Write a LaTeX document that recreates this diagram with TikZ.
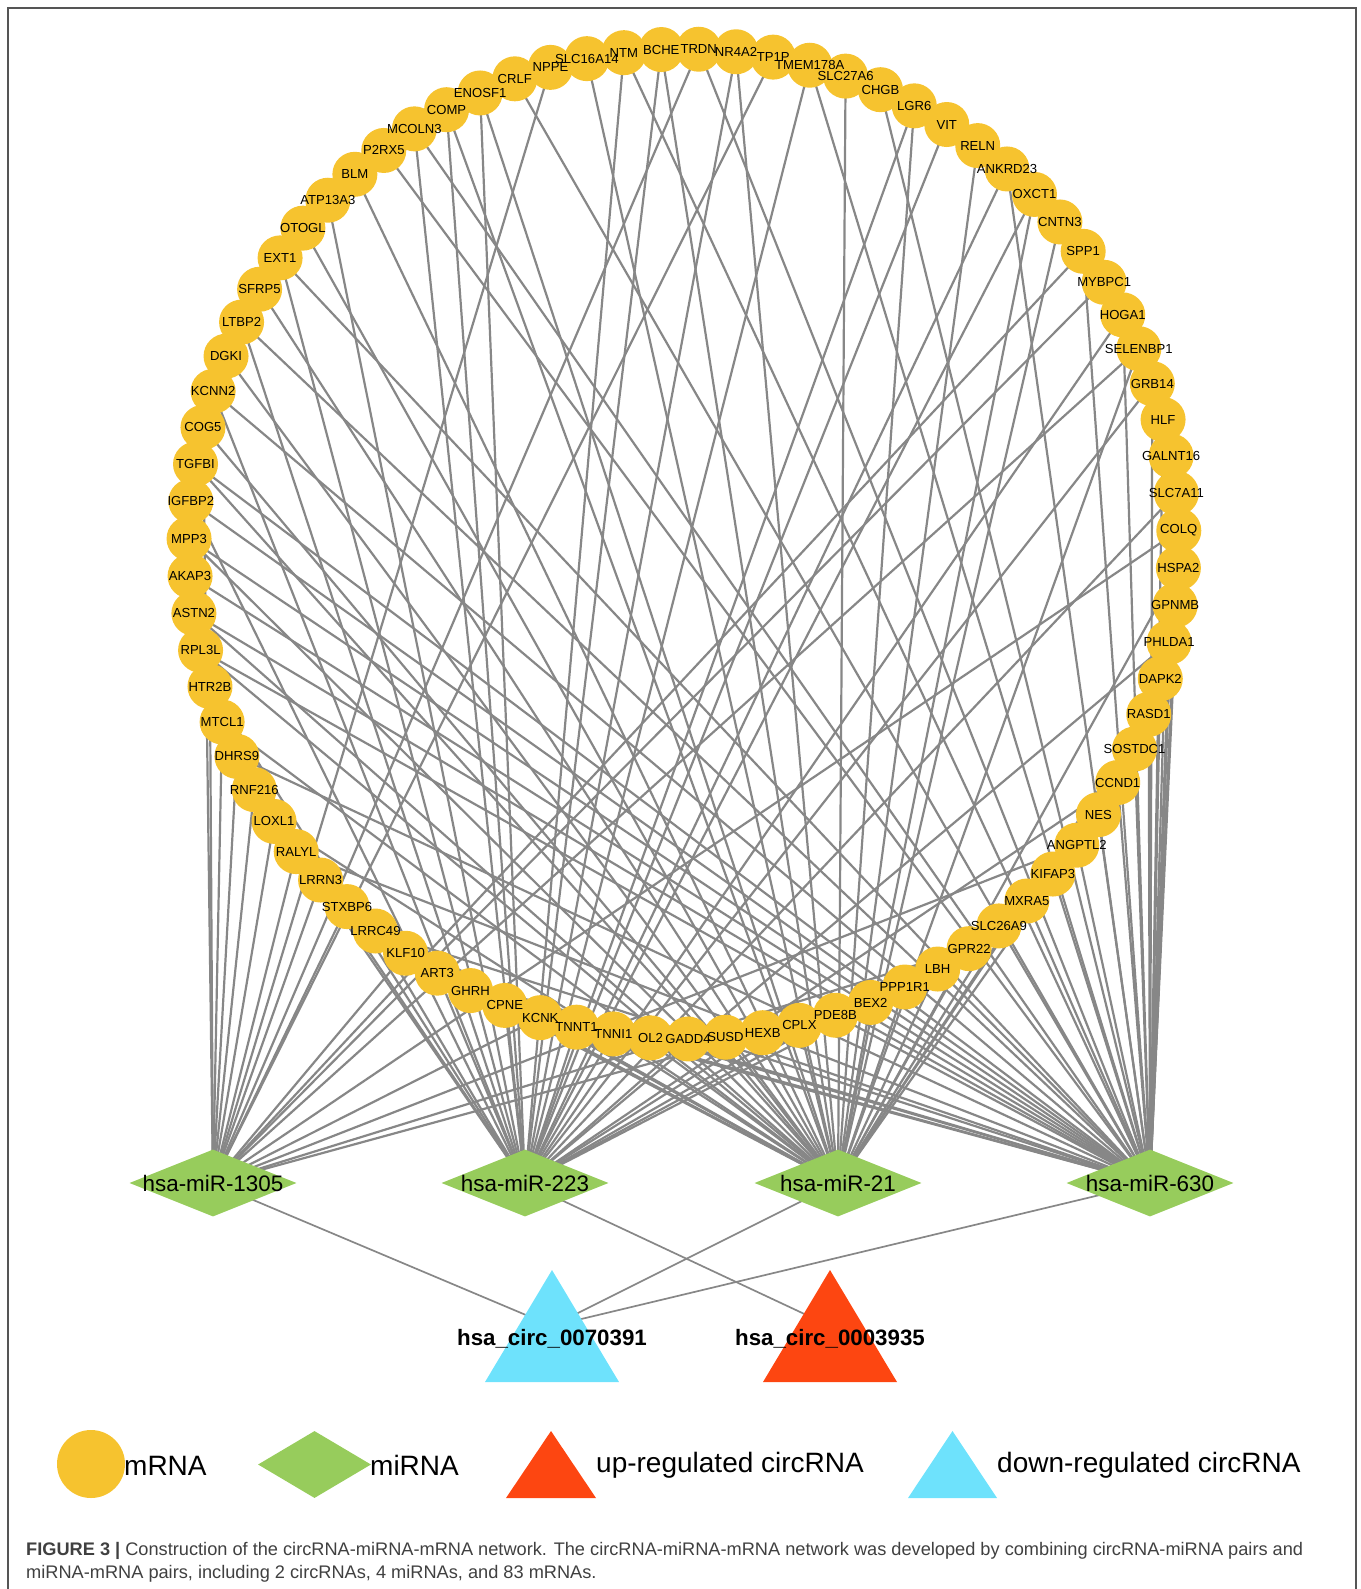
\documentclass[tikz,border=0pt]{standalone}
\usepackage{fontspec}
\setmainfont{Liberation Sans}
\usetikzlibrary{shapes.geometric,backgrounds}
\definecolor{mrna}{HTML}{F6C32F}
\definecolor{mirna}{HTML}{97CC5C}
\definecolor{upc}{HTML}{FD4611}
\definecolor{downc}{HTML}{6EE2FC}
\definecolor{edgec}{HTML}{878787}
\definecolor{framec}{HTML}{555555}
\definecolor{capc}{HTML}{404040}
\tikzset{
  mnode/.style={circle, fill=mrna, minimum size=45pt, inner sep=0pt},
  mlabel/.style={font=\fontsize{13.1}{14}\selectfont, inner sep=0pt},
  mirnode/.style={diamond, fill=mirna, minimum width=167pt, minimum height=67pt, inner sep=0pt, aspect=2.5},
  mirlabel/.style={font=\fontsize{22.4}{24}\selectfont, inner sep=0pt},
  circlabel/.style={font=\fontsize{22.3}{24}\selectfont\bfseries, inner sep=0pt},
  edge/.style={draw=edgec, line width=2.2pt},
  cedge/.style={draw=edgec, line width=1.7pt},
  legtext/.style={font=\fontsize{28}{30}\selectfont, inner sep=0pt, anchor=base west},
  captext/.style={font=\fontsize{18.2}{20}\selectfont, text=capc, inner sep=0pt, anchor=base west},
}
\def\genes{NTM,BCHE,TRDN,NR4A2,TP1P,TMEM178A,SLC27A6,CHGB,LGR6,VIT,RELN,ANKRD23,OXCT1,CNTN3,SPP1,MYBPC1,HOGA1,SELENBP1,GRB14,HLF,GALNT16,SLC7A11,COLQ,HSPA2,GPNMB,PHLDA1,DAPK2,RASD1,SOSTDC1,CCND1,NES,ANGPTL2,KIFAP3,MXRA5,SLC26A9,GPR22,LBH,PPP1R1,BEX2,PDE8B,CPLX,HEXB,SUSD,GADD4,OL2,TNNI1,TNNT1,KCNK,CPNE,GHRH,ART3,KLF10,LRRC49,STXBP6,LRRN3,RALYL,LOXL1,RNF216,DHRS9,MTCL1,HTR2B,RPL3L,ASTN2,AKAP3,MPP3,IGFBP2,TGFBI,COG5,KCNN2,DGKI,LTBP2,SFRP5,EXT1,OTOGL,ATP13A3,BLM,P2RX5,MCOLN3,COMP,ENOSF1,CRLF,NPPE,SLC16A14}
\begin{document}
\begin{tikzpicture}[x=1pt,y=-1pt]
\useasboundingbox (0,0) rectangle (1360,1589);
% frame
\draw[framec, line width=1.3pt] (8,1589) -- (8,8) -- (1356,8) -- (1356,1589);
% mRNA circles
\foreach \n [count=\k] in \genes {
  \pgfmathsetmacro\a{101.31-4.3373*\k}
  \node[mnode] (g\k) at ({684+495*cos(\a)},{544-495*sin(\a)}) {};
}
\foreach \n [count=\k] in \genes {
  \node[mlabel] (l\k) at (g\k) {\n};
}
% miRNA
\node[mirnode] (m1) at (213,1183) {};
\node[mirnode] (m2) at (525,1183) {};
\node[mirnode] (m3) at (838,1183) {};
\node[mirnode] (m4) at (1150,1183) {};
\node[mirlabel] (m1t) at (m1) {hsa-miR-1305};
\node[mirlabel] (m2t) at (m2) {hsa-miR-223};
\node[mirlabel] (m3t) at (m3) {hsa-miR-21};
\node[mirlabel] (m4t) at (m4) {hsa-miR-630};
% circRNA
\fill[downc] (552,1270) -- (619,1382) -- (485,1382) -- cycle;
\fill[upc] (830,1270) -- (897,1382) -- (763,1382) -- cycle;
\node[inner sep=0pt, minimum size=0pt] (c1) at (552,1326) {};
\node[inner sep=0pt, minimum size=0pt] (c2) at (830,1326) {};
\node[circlabel] (c1t) at (552,1339) {hsa\_circ\_0070391};
\node[circlabel] (c2t) at (830,1339) {hsa\_circ\_0003935};
% edges
\begin{scope}[on background layer]
\foreach \k in {3,5,15,16,18,23,32,36,42,48,52,54,55,56,57,58,59,60,61,68,82}
  \draw[edge] (g\k.center) -- (m1.center);
\foreach \k in {78,79,80,1,2,4,6,9,10,12,13,17,19,22,26,30,38,40,41,42,44,46,47,49,51,53,55,58,61,66,69,71,73,75}
  \draw[edge] (g\k.center) -- (m2.center);
\foreach \k in {76,79,80,83,2,4,7,9,11,13,14,18,24,28,31,34,35,36,37,38,39,41,43,45,46,48,50,52,54,57,60,62,63,65,67,68,70,72,74}
  \draw[edge] (g\k.center) -- (m3.center);
\foreach \k in {77,78,81,1,3,6,8,12,15,17,19,20,21,22,23,24,25,26,27,28,29,30,31,32,33,34,35,37,40,43,45,47,49,51,53,56,59,62,63,64,65,66,67,69,71,73}
  \draw[edge] (g\k.center) -- (m4.center);
\draw[cedge] (m1.center) -- (c1.center);
\draw[cedge] (m2.center) -- (c2.center);
\draw[cedge] (m3.center) -- (c1.center);
\draw[cedge] (m4.center) -- (c1.center);
\end{scope}
% legend
\node[circle, fill=mrna, minimum size=68pt, inner sep=0pt] (lg1) at (91,1464) {};
\node[legtext] (lg1t) at (124,1475) {mRNA};
\node[diamond, fill=mirna, minimum width=113pt, minimum height=67pt, inner sep=0pt] (lg2) at (314.5,1464.5) {};
\node[legtext] (lg2t) at (370,1475) {miRNA};
\fill[upc] (551,1431) -- (596,1498) -- (506,1498) -- cycle;
\node[inner sep=0pt] (lg3) at (551,1470) {};
\node[legtext] (lg3t) at (596,1472) {up-regulated circRNA};
\fill[downc] (952.5,1431) -- (997,1498) -- (908,1498) -- cycle;
\node[inner sep=0pt] (lg4) at (952.5,1470) {};
\node[legtext] (lg4t) at (997,1472) {down-regulated circRNA};
% caption
\node[captext] (cap1) at (26,1555) {\textbf{FIGURE 3 |} Construction of the circRNA-miRNA-mRNA network. The circRNA-miRNA-mRNA network was developed by combining circRNA-miRNA pairs and};
\node[captext] (cap2) at (26,1578) {miRNA-mRNA pairs, including 2 circRNAs, 4 miRNAs, and 83 mRNAs.};
\end{tikzpicture}
\end{document}
